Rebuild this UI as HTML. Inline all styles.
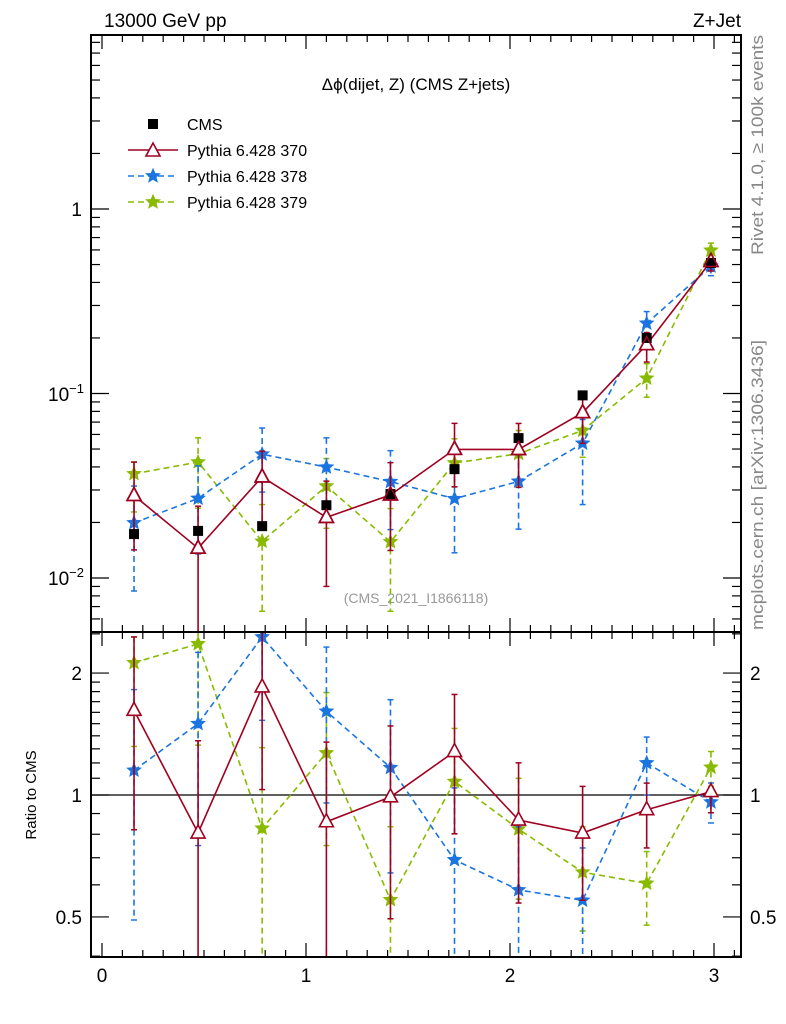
<!DOCTYPE html>
<html><head><meta charset="utf-8"><style>
body{margin:0;background:#fff;}
svg{display:block;font-family:"Liberation Sans",sans-serif;}
</style></head><body>
<svg id="chart" width="786" height="1024" viewBox="0 0 786 1024" xmlns="http://www.w3.org/2000/svg">
<defs>
<clipPath id="clipMain"><rect x="91" y="35" width="650" height="597"/></clipPath>
<clipPath id="clipRatio"><rect x="91" y="632" width="650" height="325"/></clipPath>
</defs>
<text x="104" y="27" font-size="19">13000 GeV pp</text>
<text x="741" y="27" font-size="19" text-anchor="end">Z+Jet</text>
<text x="416" y="90" font-size="17" text-anchor="middle">Δϕ(dijet, Z) (CMS Z+jets)</text>
<text x="416" y="603" font-size="14" fill="#999" text-anchor="middle">(CMS_2021_I1866118)</text>
<text transform="translate(763,255) rotate(-90)" font-size="17" fill="#888" textLength="220" lengthAdjust="spacingAndGlyphs">Rivet 4.1.0, ≥ 100k events</text>
<text transform="translate(763,630) rotate(-90)" font-size="17" fill="#888" textLength="290" lengthAdjust="spacingAndGlyphs">mcplots.cern.ch [arXiv:1306.3436]</text>
<text transform="translate(36,795) rotate(-90)" font-size="15" text-anchor="middle">Ratio to CMS</text>
<g id="axes"></g>
<g id="marksMain" clip-path="url(#clipMain)"></g>
<g id="marksRatio" clip-path="url(#clipRatio)"></g>
<g id="legend"></g>
<rect x="91" y="35" width="650" height="597" fill="none" stroke="#000" stroke-width="2"/>
<rect x="91" y="632" width="650" height="325" fill="none" stroke="#000" stroke-width="2"/>
</svg>
<script>
const xCenters = [0.157,0.471,0.785,1.100,1.414,1.728,2.042,2.356,2.670,2.985];
const cmsVal = [0.0173,0.0180,0.0191,0.0248,0.0285,0.0389,0.0573,0.0977,0.200,0.510];
const redVal = [0.0280,0.0145,0.0353,0.0213,0.0282,0.0498,0.0497,0.0787,0.184,0.520];
const redHi  = [0.0425,0.0245,0.0487,0.0335,0.0422,0.0689,0.0688,0.1026,0.214,0.525];
const redLo  = [0.0142,0.0040,0.0197,0.0090,0.0141,0.0312,0.0310,0.0537,0.148,0.461];
const blueVal = [0.0199,0.0270,0.0469,0.0399,0.0333,0.0269,0.0334,0.0537,0.240,0.490];
const blueHi  = [0.0315,0.0405,0.0650,0.0575,0.0490,0.0405,0.0478,0.0723,0.278,0.546];
const blueLo  = [0.0085,0.0135,0.0292,0.0237,0.0183,0.0137,0.0184,0.0250,0.200,0.435];
const greenVal = [0.0367,0.0425,0.0158,0.0315,0.0157,0.0420,0.0472,0.0630,0.121,0.597];
const greenHi  = [0.0425,0.0575,0.0250,0.0444,0.0238,0.0568,0.0630,0.0815,0.145,0.653];
const greenLo  = [0.0228,0.0239,0.0066,0.0186,0.0066,0.0312,0.0317,0.0451,0.0954,0.536];
const xTickLabels = ["0","1","2","3"];
const ratioTickLabels = ["0.5","1","2"];

const NS="http://www.w3.org/2000/svg";
const X = v => 102 + v*204;
const YM = v => 209 - 184.5*Math.log10(v);
const YR = r => 795 - 405*Math.log10(r);
function mk(tag, parent, attrs){const e=document.createElementNS(NS,tag);for(const k in attrs)e.setAttribute(k,attrs[k]);parent.appendChild(e);return e;}
const axes=document.getElementById('axes');

for(let i=0;i<=31;i++){
  const v=i/10, x=X(v), major=(i%10===0), L=major?14:7;
  for(const [y0,dir] of [[632,-1],[35,1],[957,-1],[632,1]]){
    const t=mk('line',axes,{x1:x,x2:x,y1:y0,y2:y0+dir*L,stroke:'#000','stroke-width':1.2});
    
    
  }
}
xTickLabels.forEach((s,i)=>{
  const t=mk('text',axes,{x:X(i),y:982,'font-size':19,'text-anchor':'middle'});
  t.textContent=s;
  
  
});
for(let d=-3;d<=0;d++){
  for(let m=1;m<=9;m++){
    const v=m*Math.pow(10,d), y=YM(v);
    if(y<35||y>632)continue;
    const L=m===1?18:9;
    for(const [x0,dir] of [[91,1],[741,-1]]){
      const t=mk('line',axes,{x1:x0,x2:x0+dir*L,y1:y,y2:y,stroke:'#000','stroke-width':1.2});
      
      
    }
  }
}
const yl1=mk('text',axes,{x:82,y:216,'font-size':19,'text-anchor':'end'});yl1.textContent='1';


[[-1,394],[-2,578]].forEach(([p,y])=>{
  const t=mk('text',axes,{x:84,y:y+7,'font-size':19,'text-anchor':'end'});
  t.innerHTML='10<tspan dy="-8" font-size="13">−'+(-p)+'</tspan>';
  
  
});
const rt=[0.4,0.5,0.6,0.7,0.8,0.9,1,1.1,1.2,1.3,1.4,1.5,1.6,1.7,1.8,1.9,2,2.5];
rt.forEach(r=>{
  const y=YR(r); if(y<632||y>957)return;
  const major=(r===0.5||r===1||r===2), L=major?18:9;
  for(const [x0,dir] of [[91,1],[741,-1]]){
    const t=mk('line',axes,{x1:x0,x2:x0+dir*L,y1:y,y2:y,stroke:'#000','stroke-width':1.2});
    
    
  }
});
ratioTickLabels.forEach(s=>{
  const y=YR(parseFloat(s))+7;
  const a=mk('text',axes,{x:82,y:y,'font-size':19,'text-anchor':'end'});a.textContent=s;
  
  
  const b=mk('text',axes,{x:750,y:y,'font-size':19});b.textContent=s;
  
  
});
const one=mk('line',axes,{x1:91,x2:741,y1:YR(1),y2:YR(1),stroke:'#000','stroke-width':1.3});



function star(g,cx,cy,r,color){
  let pts=[];
  for(let k=0;k<10;k++){const a=-Math.PI/2+k*Math.PI/5, rr=k%2?r*0.45:r;pts.push((cx+rr*Math.cos(a)).toFixed(1)+','+(cy+rr*Math.sin(a)).toFixed(1));}
  return mk('polygon',g,{points:pts.join(' '),fill:color,stroke:color,'stroke-width':1});
}
function tri(g,cx,cy,color){
  return mk('polygon',g,{points:`${cx},${cy-8} ${cx-7},${cy+5} ${cx+7},${cy+5}`,fill:'#fff',stroke:color,'stroke-width':1.6});
}
const series=[
  {name:'pythia-379',val:greenVal,hi:greenHi,lo:greenLo,color:'#88bb00',dash:'6,4',marker:'star'},
  {name:'pythia-378',val:blueVal,hi:blueHi,lo:blueLo,color:'#1a75e0',dash:'6,4',marker:'star'},
  {name:'pythia-370',val:redVal,hi:redHi,lo:redLo,color:'#a00020',dash:'',marker:'tri'}
];
const gM=document.getElementById('marksMain'), gR=document.getElementById('marksRatio');
series.forEach(s=>{
  for(const [g,Y,norm] of [[gM,YM,false],[gR,YR,true]]){
    const f=i=>norm?1/cmsVal[i]:1;
    const pts=s.val.map((v,i)=>X(xCenters[i]).toFixed(1)+','+Y(v*f(i)).toFixed(1)).join(' ');
    const pl=mk('polyline',g,{points:pts,fill:'none',stroke:s.color,'stroke-width':1.6,'stroke-dasharray':s.dash});
    
    
    s.val.forEach((v,i)=>{
      const x=X(xCenters[i]);
      const e=mk('line',g,{x1:x,x2:x,y1:Y(s.hi[i]*f(i)),y2:Y(s.lo[i]*f(i)),stroke:s.color,'stroke-width':1.6,'stroke-dasharray':s.dash});
      
      
      for(const yy of [Y(s.hi[i]*f(i)),Y(s.lo[i]*f(i))]){
        const c=mk('line',g,{x1:x-3,x2:x+3,y1:yy,y2:yy,stroke:s.color,'stroke-width':1.5});
        
        
      }
      const y=Y(v*f(i));
      const m=s.marker==='star'?star(g,x,y,7,s.color):tri(g,x,y,s.color);
      
      
    });
  }
});
cmsVal.forEach((v,i)=>{
  const x=X(xCenters[i]), y=YM(v);
  const r=mk('rect',gM,{x:x-5,y:y-5,width:10,height:10,fill:'#000'});
  
  
});
redVal.forEach((v,i)=>{
  const t=tri(gM,X(xCenters[i]),YM(v),'#a00020');
  t.setAttribute('fill','none');
  
  
});
const lg=document.getElementById('legend');
const sq=mk('rect',lg,{x:148,y:119,width:10,height:10,fill:'#000'});


const legendRows=[['CMS',124],['Pythia 6.428 370',150],['Pythia 6.428 378',176],['Pythia 6.428 379',202]];
legendRows.forEach(([s,y])=>{
  const t=mk('text',lg,{x:187,y:y+6,'font-size':16});t.textContent=s;
  
  
});
[['#a00020','',150,'tri'],['#1a75e0','6,4',176,'star'],['#88bb00','6,4',202,'star']].forEach(([c,d,y,m])=>{
  const l=mk('line',lg,{x1:128,x2:178,y1:y,y2:y,stroke:c,'stroke-width':1.6,'stroke-dasharray':d});
  
  
  const mm=m==='tri'?tri(lg,153,y+1,c):star(lg,153,y,7,c);
  
  
});
</script>
</body></html>
